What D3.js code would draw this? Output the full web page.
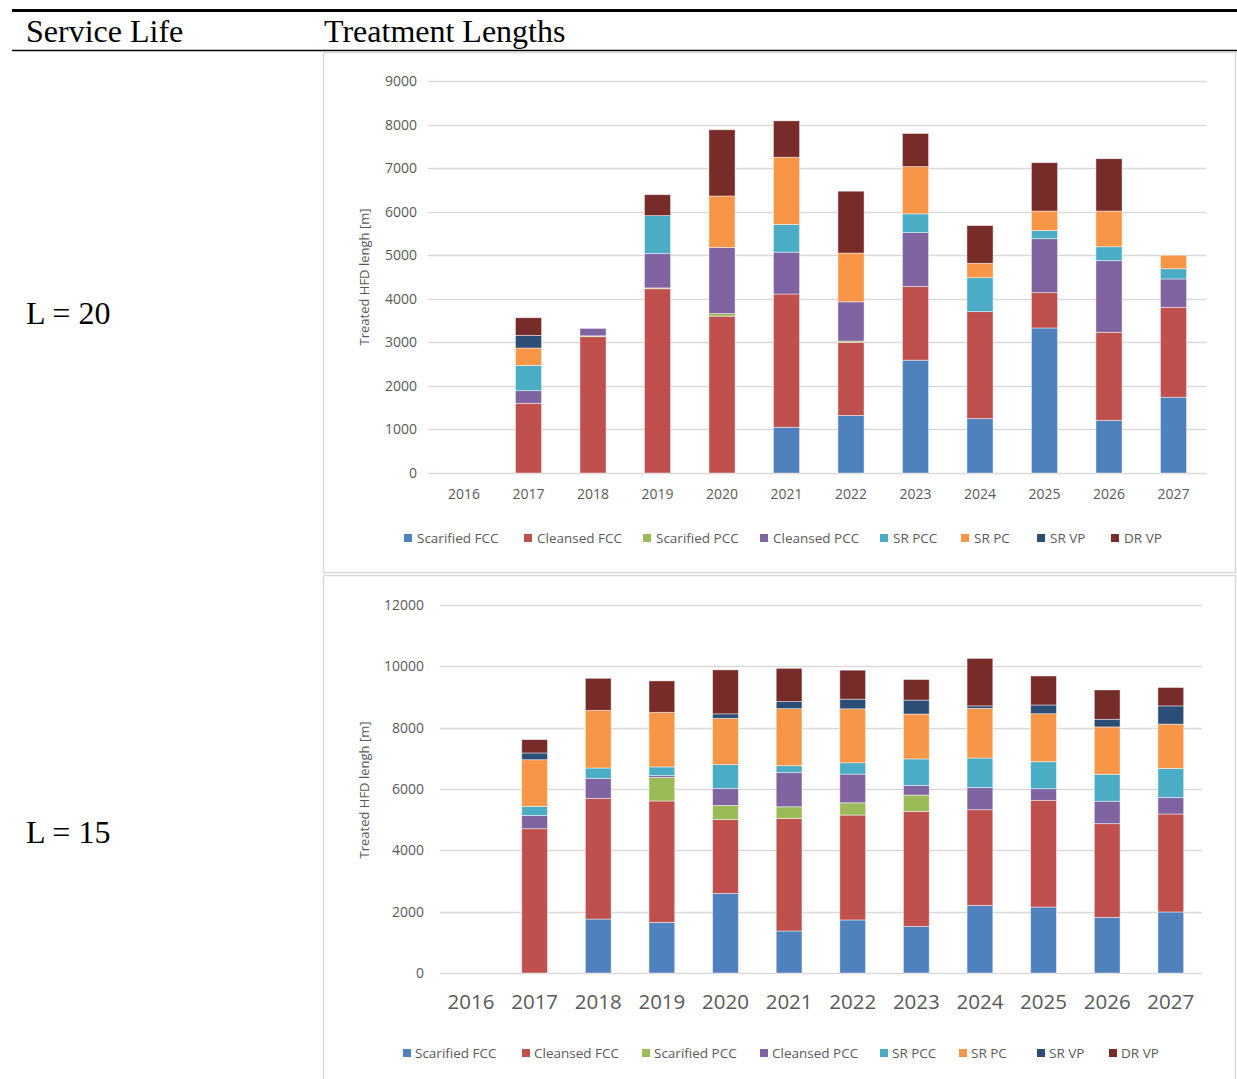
<!DOCTYPE html>
<html><head><meta charset="utf-8">
<script src="https://cdn.jsdelivr.net/npm/d3@7"></script>
<style>
html,body{margin:0;padding:0;background:#fff;}
svg{display:block;}
</style></head>
<body>
<svg id="c" width="1237" height="1079"></svg>
<script>
const years = ["2016","2017","2018","2019","2020","2021","2022","2023","2024","2025","2026","2027"];
const seriesNames = ["Scarified FCC","Cleansed FCC","Scarified PCC","Cleansed PCC","SR PCC","SR PC","SR VP","DR VP"];
const seriesColors = ["#4F81BD","#C0504D","#9BBB59","#8064A2","#4BACC6","#F79646","#2C4D75","#772C2A"];

// L = 20
const l20ScarifiedFCC = [0,0,0,0,0,1050,1320,2590,1250,3330,1210,1740];
const l20CleansedFCC  = [0,1600,3130,4230,3600,3060,1680,1690,2455,810,2020,2065];
const l20ScarifiedPCC = [0,0,20,20,60,0,30,0,0,0,0,0];
const l20CleansedPCC  = [0,290,170,790,1520,960,900,1240,0,1240,1645,650];
const l20SRPCC        = [0,580,0,870,0,635,0,430,780,190,320,235];
const l20SRPC         = [0,400,0,0,1180,1545,1120,1085,330,445,820,310];
const l20SRVP         = [0,290,0,0,0,0,0,0,0,0,0,0];
const l20DRVP         = [0,405,0,480,1520,835,1420,760,865,1110,1200,0];
const l20Ticks = [0,1000,2000,3000,4000,5000,6000,7000,8000,9000];

// L = 15
const l15ScarifiedFCC = [0,0,1760,1650,2595,1370,1730,1520,2205,2150,1815,1990];
const l15CleansedFCC  = [0,4705,3935,3960,2410,3670,3420,3750,3120,3480,3055,3195];
const l15ScarifiedPCC = [0,0,0,770,460,380,400,535,0,0,0,0];
const l15CleansedPCC  = [0,435,650,65,555,1120,935,315,725,380,730,540];
const l15SRPCC        = [0,295,340,275,775,220,370,860,960,880,880,945];
const l15SRPC         = [0,1520,1880,1780,1510,1860,1760,1465,1620,1565,1545,1445];
const l15SRVP         = [0,220,0,0,145,230,315,455,80,285,250,595];
const l15DRVP         = [0,435,1045,1025,1435,1085,945,670,1550,945,955,600];
const l15Ticks = [0,2000,4000,6000,8000,10000,12000];

const yTitle = "Treated HFD lengh [m]";

const svg = d3.select("#c");
const serif = "'Liberation Serif','Times New Roman',serif";
const sans = "'Open Sans','Noto Sans',sans-serif";

// table lines and headers
svg.append("line").attr("x1",12).attr("x2",1237).attr("y1",10.5).attr("y2",10.5).attr("stroke","#000").attr("stroke-width",3);
svg.append("line").attr("x1",12).attr("x2",1237).attr("y1",50.5).attr("y2",50.5).attr("stroke","#000").attr("stroke-width",1.5);
svg.append("text").attr("x",26).attr("y",42).attr("font-family",serif).attr("font-size",32).text("Service Life");
svg.append("text").attr("x",324).attr("y",42).attr("font-family",serif).attr("font-size",32).text("Treatment Lengths");
svg.append("text").attr("x",26).attr("y",324).attr("font-family",serif).attr("font-size",32).text("L = 20");
svg.append("text").attr("x",26).attr("y",843).attr("font-family",serif).attr("font-size",32).text("L = 15");

function drawChart(cfg){
  const g = svg.append("g");
  g.append("rect").attr("x",cfg.box[0]+0.5).attr("y",cfg.box[1]+0.5).attr("width",cfg.box[2]).attr("height",cfg.box[3])
    .attr("fill","#fff").attr("stroke","#d9d9d9").attr("stroke-width",1.5);
  const x = d3.scaleBand().domain(years).range([cfg.x0,cfg.x1]).paddingInner(0.595).paddingOuter(0.2975);
  const y = d3.scaleLinear().domain([0,cfg.max]).range([cfg.y0,cfg.y1]);
  // gridlines
  g.append("g").selectAll("line").data(cfg.ticks).join("line")
    .attr("x1",cfg.gx0).attr("x2",cfg.gx1).attr("y1",d=>Math.round(y(d))+0.5).attr("y2",d=>Math.round(y(d))+0.5)
    .attr("stroke","#d9d9d9").attr("stroke-width",1.3);
  // y axis labels
  const ya = g.append("g").attr("transform",`translate(${cfg.ylx},0)`)
    .call(d3.axisLeft(y).tickValues(cfg.ticks).tickFormat(d3.format("d")).tickSize(0).tickPadding(0));
  ya.select(".domain").remove();
  ya.selectAll("text").attr("font-family",sans).attr("font-size",cfg.yfs).attr("fill","#595959");
  // x axis labels
  const xa = g.append("g").attr("transform",`translate(0,${cfg.xly})`)
    .call(d3.axisBottom(x).tickSize(0).tickPadding(0));
  xa.select(".domain").remove();
  xa.selectAll("text").attr("font-family",sans).attr("font-size",cfg.xfs).attr("fill","#595959");
  // stacked bars
  const rows = years.map((yr,i)=>{const o={year:yr}; seriesNames.forEach((s,k)=>o[s]=cfg.series[k][i]); return o;});
  const stack = d3.stack().keys(seriesNames)(rows);
  g.append("g").selectAll("g").data(stack).join("g")
    .attr("fill",(d,i)=>seriesColors[i])
    .selectAll("rect").data(d=>d.filter(v=>v[1]-v[0]>0)).join("rect")
    .attr("x",d=>x(d.data.year)).attr("width",x.bandwidth())
    .attr("y",d=>y(d[1])).attr("height",d=>y(d[0])-y(d[1]))
    .attr("stroke","#ffffff").attr("stroke-opacity",0.55).attr("stroke-width",0.8);
  // y title
  g.append("text").attr("transform",`translate(${cfg.tx},${cfg.ty}) rotate(-90)`)
    .attr("text-anchor","middle").attr("font-family",sans).attr("font-size",13).attr("fill","#595959").text(yTitle);
  // legend
  const lg = g.append("g");
  seriesNames.forEach((s,k)=>{
    lg.append("rect").attr("x",cfg.legX[k]).attr("y",cfg.legY-4).attr("width",8).attr("height",8).attr("fill",seriesColors[k]);
    lg.append("text").attr("x",cfg.legX[k]+cfg.legGap).attr("y",cfg.legY).attr("dy","0.35em")
      .attr("font-family",sans).attr("font-size",13.5).attr("fill","#595959").text(s);
  });
}

drawChart({
  box:[323,52,912,520], x0:431.75, x1:1205.75, gx0:428, gx1:1206, y0:473, y1:81, max:9000,
  ticks:l20Ticks, ylx:417, yfs:14, xly:489, xfs:14, tx:369, ty:277,
  series:[l20ScarifiedFCC,l20CleansedFCC,l20ScarifiedPCC,l20CleansedPCC,l20SRPCC,l20SRPC,l20SRVP,l20DRVP],
  legX:[404,524,643,760,880,961,1037,1111], legGap:13, legY:538
});
drawChart({
  box:[323,575,912,510], x0:439.2, x1:1202.6, gx0:440, gx1:1202, y0:973, y1:605, max:12000,
  ticks:l15Ticks, ylx:424, yfs:14, xly:994, xfs:20.5, tx:369, ty:790,
  series:[l15ScarifiedFCC,l15CleansedFCC,l15ScarifiedPCC,l15CleansedPCC,l15SRPCC,l15SRPC,l15SRVP,l15DRVP],
  legX:[403,522,642,760,880,959,1037,1109], legGap:12, legY:1053
});
</script>
</body></html>
